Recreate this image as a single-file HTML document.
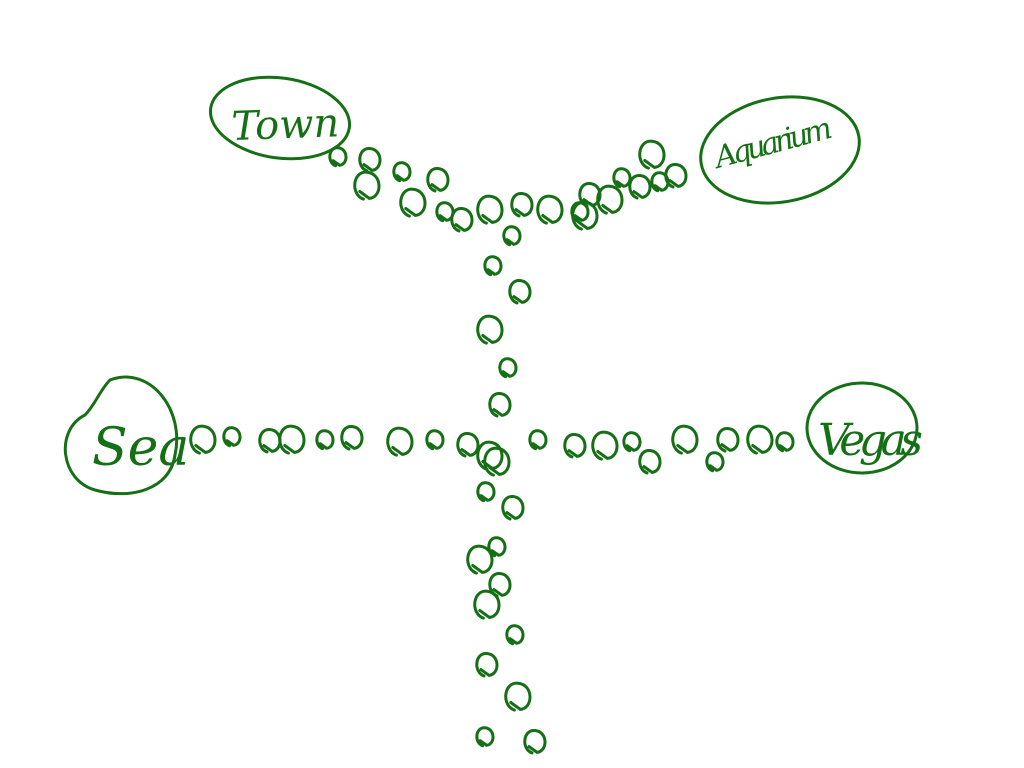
<!DOCTYPE html>
<html><head><meta charset="utf-8"><style>
html,body{margin:0;padding:0;background:#fff;width:1024px;height:768px;overflow:hidden}
svg{display:block}
</style></head><body>
<svg id="s" width="1024" height="768" viewBox="0 0 1024 768">
<g fill="none" stroke="#157015" stroke-width="3" stroke-linecap="round">
<ellipse cx="280" cy="118" rx="70" ry="40" transform="rotate(8 280 118)"/>
<ellipse cx="780" cy="150" rx="80" ry="52" transform="rotate(-10 780 150)"/>
<path d="M110 380 C150 365 185 410 175 455 C170 490 130 500 95 490 C60 480 55 430 85 415 C95 405 100 390 110 380 Z"/>
<ellipse cx="862" cy="428" rx="55" ry="45"/>
</g>
<g font-family="'DejaVu Serif','Liberation Serif',serif" font-style="italic" fill="#157015">
<text x="232" y="140" font-size="40" transform="rotate(-2 232 140)">Town</text>
<text x="718" y="168" font-size="30" transform="rotate(-15 718 168)" textLength="120">Aquarium</text>
<text x="92" y="465" font-size="52">Sea</text>
<text x="818" y="455" font-size="44" textLength="105">Vegas</text>
</g>
<g id="loops" fill="none" stroke="#157015" stroke-width="3" stroke-linecap="round"></g>
</svg>
<script>
var pts=[[338,157],[370,160],[367,186],[402,172],[438,180],[413,203],[445,212],[462,220],[490,210],[512,236],[522,205],[550,210],[580,212],[590,195],[610,200],[622,178],[640,187],[652,155],[660,182],[676,176],[585,216],
[493,266],[520,292],[490,330],[508,368],[500,405],[490,456],[486,492],[513,508],[480,560],[497,547],[500,585],[487,605],[515,635],[487,665],[518,697],[485,737],[535,742],
[203,440],[232,437],[270,441],[292,440],[325,440],[352,438],[400,442],[435,440],[468,445],[497,462],
[538,440],[575,446],[605,446],[632,442],[650,462],[685,440],[715,462],[728,440],[760,440],[785,442]];
var g=document.getElementById('loops');
pts.forEach(function(p,i){
var e=document.createElementNS('http://www.w3.org/2000/svg','path');
var rx=8+(i%3)*2, ry=rx*1.15;
var x=p[0], y=p[1];
var d='M'+(x-rx*0.3)+' '+(y+ry*0.95)+' C'+(x-rx*1.4)+' '+(y+ry*0.6)+' '+(x-rx*1.2)+' '+(y-ry*1.1)+' '+(x)+' '+(y-ry)+' C'+(x+rx*1.3)+' '+(y-ry*0.9)+' '+(x+rx*1.3)+' '+(y+ry*0.8)+' '+(x+rx*0.2)+' '+(y+ry*0.9)+' L'+(x-rx*0.6)+' '+(y+ry*0.4);
e.setAttribute('d',d);


g.appendChild(e);
});
</script>
</body></html>
